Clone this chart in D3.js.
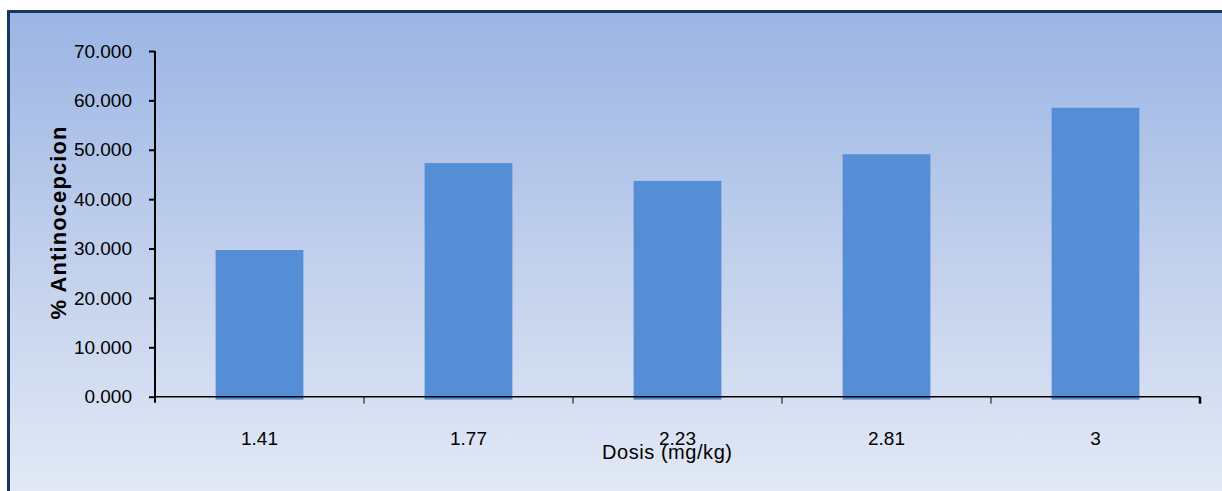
<!DOCTYPE html>
<html>
<head>
<meta charset="utf-8">
<script src="https://cdn.jsdelivr.net/npm/d3@7"></script>
<style>
  html, body { margin: 0; padding: 0; background: #ffffff; }
  svg { display: block; }
</style>
</head>
<body>
<script>
// Dose–response data: % antinociception per dose
const categories = ["1.41", "1.77", "2.23", "2.81", "3"];
const values = [29.7, 47.3, 43.7, 49.1, 58.5];
const yTicks = [0, 10, 20, 30, 40, 50, 60, 70];

const W = 1222, H = 491;
const svg = d3.select("body").append("svg").attr("width", W).attr("height", H);

// Background panel gradient
const defs = svg.append("defs");
const grad = defs.append("linearGradient").attr("id", "bg").attr("x1", 0).attr("y1", 0).attr("x2", 0).attr("y2", 1);
grad.append("stop").attr("offset", "0%").attr("stop-color", "#9bb5e4");
grad.append("stop").attr("offset", "50%").attr("stop-color", "#c2d0ec");
grad.append("stop").attr("offset", "100%").attr("stop-color", "#e5ebf7");

svg.append("rect")
  .attr("x", 8.5).attr("y", 11.5)
  .attr("width", 1240).attr("height", 500)
  .attr("fill", "url(#bg)")
  .attr("stroke", "#17375e").attr("stroke-width", 3);

const margin = { left: 155, right: 1200, top: 51, bottom: 396.7 };

const x = d3.scaleBand().domain(categories).range([margin.left, margin.right]).paddingInner(0.58).paddingOuter(0.29);
const xb = d3.scaleBand().domain(categories).range([margin.left, margin.right]);
const y = d3.scaleLinear().domain([0, 70]).range([margin.bottom, margin.top]);

const font = "'Liberation Sans', Arial, sans-serif";

// Bars
svg.append("g").selectAll("rect").data(values).join("rect")
  .attr("x", (d, i) => x(categories[i]))
  .attr("width", x.bandwidth())
  .attr("y", d => y(d))
  .attr("height", d => y(0) - y(d) + 3)
  .attr("fill", "#558ed5");

// Y axis
const yAxis = d3.axisLeft(y).tickValues(yTicks).tickSize(6).tickPadding(17)
  .tickFormat(d3.format(".3f"));
const gy = svg.append("g").attr("transform", `translate(${margin.left},0)`).call(yAxis);
gy.select(".domain").remove();
gy.append("line").attr("x1", 0).attr("x2", 0).attr("y1", margin.top).attr("y2", margin.bottom + 6)
  .attr("stroke", "#000").attr("stroke-width", 2);
gy.selectAll(".tick line").attr("stroke", "#000").attr("stroke-width", 2);
gy.selectAll(".tick text").attr("fill", "#000").style("font-family", font).style("font-size", "19px");

// X axis: boundary ticks between categories
const gx = svg.append("g").attr("transform", `translate(0,${margin.bottom})`);
gx.append("line").attr("x1", margin.left).attr("x2", margin.right).attr("y1", 0).attr("y2", 0)
  .attr("stroke", "#000").attr("stroke-width", 1.5);
const bounds = categories.slice(1).map(c => xb(c)).concat([margin.right]);
gx.selectAll("line.tk").data(bounds).join("line").attr("class", "tk")
  .attr("x1", d => d).attr("x2", d => d).attr("y1", 0).attr("y2", 7)
  .attr("stroke", "#000").attr("stroke-width", (d, i) => i === bounds.length - 1 ? 2.5 : 1);
gx.selectAll("text").data(categories).join("text")
  .attr("x", d => xb(d) + xb.bandwidth() / 2)
  .attr("y", 48)
  .attr("text-anchor", "middle")
  .style("font-family", font).style("font-size", "19px")
  .attr("fill", "#000")
  .text(d => d);

// Axis titles
svg.append("text")
  .attr("x", 667).attr("y", 459)
  .attr("text-anchor", "middle")
  .style("font-family", font).style("font-size", "20px")
  .attr("textLength", 130)
  .attr("fill", "#000")
  .text("Dosis (mg/kg)");

svg.append("text")
  .attr("transform", "translate(66,223) rotate(-90)")
  .attr("text-anchor", "middle")
  .style("font-family", font).style("font-size", "22px").style("font-weight", "bold")
  .attr("textLength", 193)
  .attr("fill", "#000")
  .text("% Antinocepcion");
</script>
</body>
</html>
